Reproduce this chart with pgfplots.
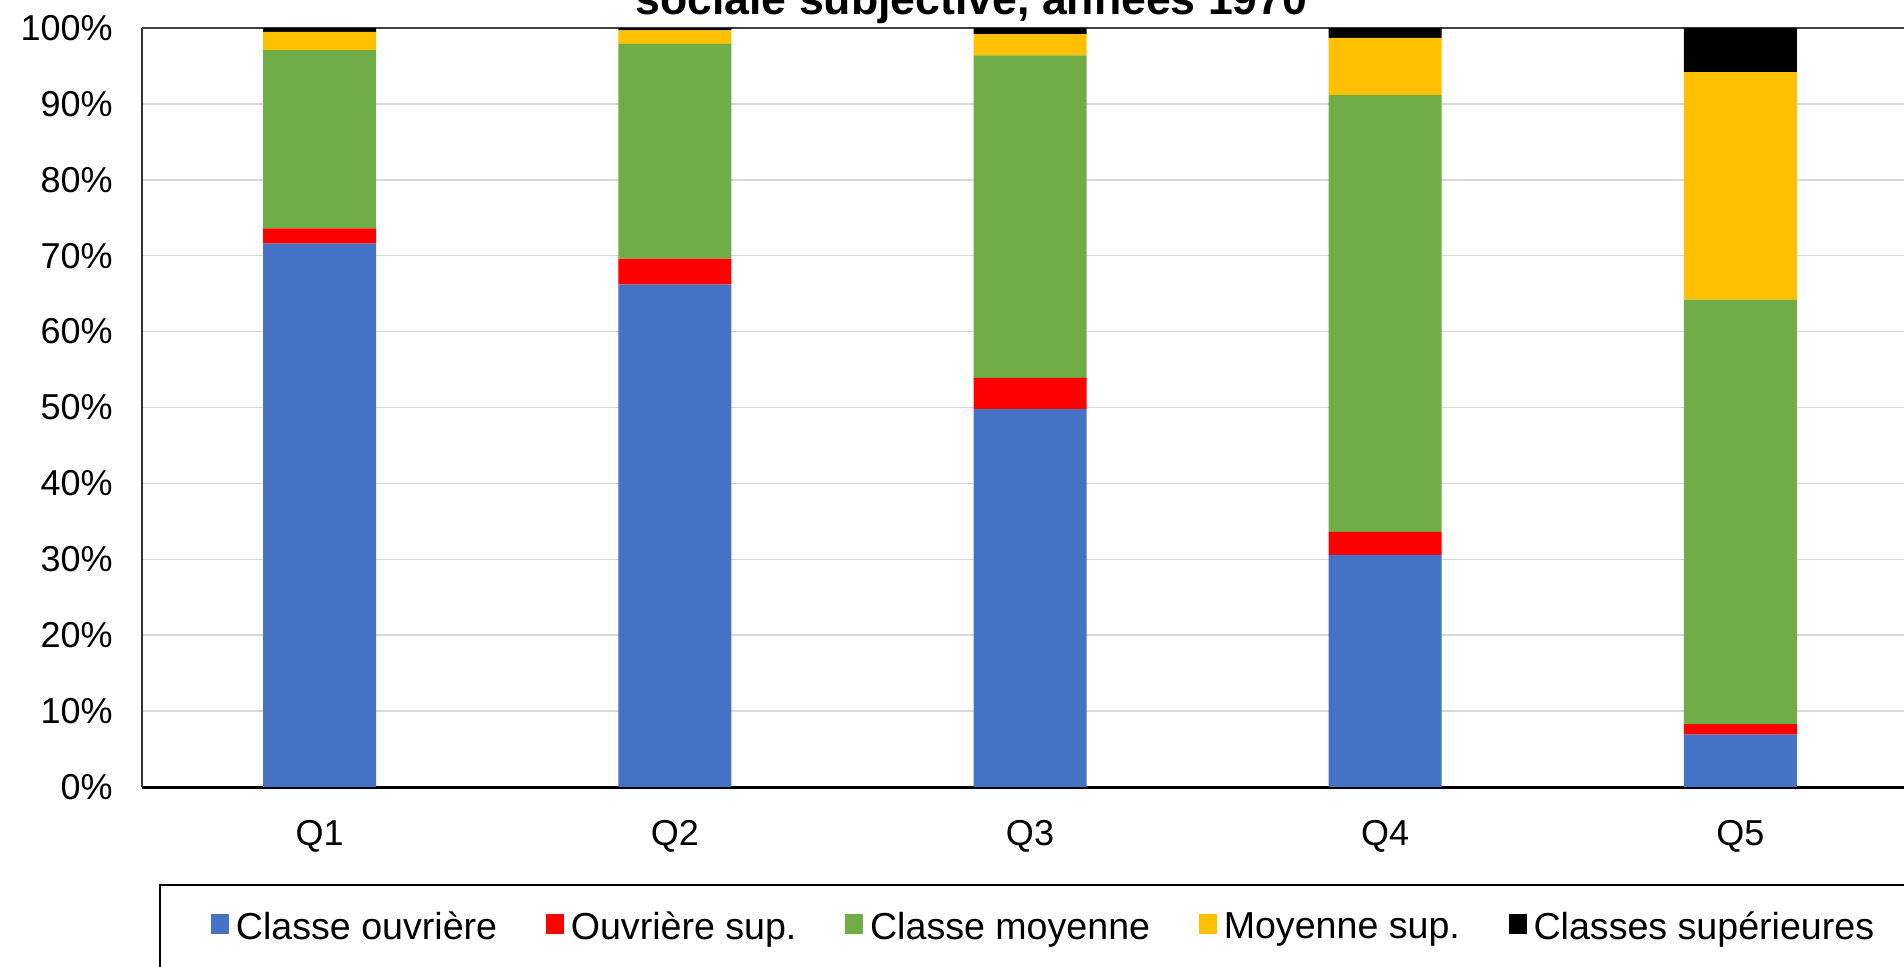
\documentclass[border=0pt]{standalone}
\usepackage{fontspec}
\setmainfont{Liberation Sans}
\usepackage{pgfplots}
\pgfplotsset{compat=1.18}
\definecolor{cBlue}{HTML}{4472C4}
\definecolor{cRed}{HTML}{FF0000}
\definecolor{cGreen}{HTML}{70AD47}
\definecolor{cYellow}{HTML}{FFC000}
\definecolor{cBlack}{HTML}{000000}
\definecolor{cGrid}{HTML}{D9D9D9}
\begin{document}
\begin{tikzpicture}
\useasboundingbox (0,0) rectangle (952pt,483pt);
\clip (0,0) rectangle (952pt,483pt);
\node[anchor=base, inner sep=0pt, font=\fontsize{22.3}{26}\selectfont\bfseries] at (485.7pt,475.5pt) {sociale subjective, années 1970};
\begin{axis}[
  at={(71pt,89.5pt)}, anchor=south west,
  scale only axis, width=888pt, height=379.5pt,
  ybar stacked, bar width=56.5pt,
  every axis plot post/.append style={legend image code/.code={\fill[##1, draw=none] (0pt,-3.2pt) rectangle (9pt,6.8pt);}},
  xmin=-0.5, xmax=4.5, ymin=0, ymax=100,
  xtick={0,1,2,3,4}, xticklabels={Q1,Q2,Q3,Q4,Q5},
  ytick={0,10,20,30,40,50,60,70,80,90},
  yticklabels={0\%,10\%,20\%,30\%,40\%,50\%,60\%,70\%,80\%,90\%},
  extra y ticks={100}, extra y tick labels={100\%},
  extra y tick style={grid style={draw=black!75, line width=1pt}},
  ymajorgrids, grid style={draw=cGrid, line width=0.75pt},
  axis x line*=bottom, axis y line*=left,
  x axis line style={-, draw=black, line width=1.5pt},
  y axis line style={-, draw=black!80, line width=0.8pt},
  tick style={draw=none},
  tick label style={font=\fontsize{18}{21}\selectfont},
  yticklabel style={anchor=east, inner sep=0pt, xshift=-14.5pt},
  xticklabel style={anchor=base, inner sep=0pt, yshift=-29.4pt},
  legend columns=5,
  legend style={at={(0.00957,-0.1278)}, anchor=north west,
    draw=black, line width=1pt, inner xsep=25.5pt, inner ysep=13.5pt,
    font=\fontsize{18.8}{22}\selectfont,
    nodes={inner sep=0pt},
    /tikz/every odd column/.append style={column sep=3.5pt},
    /tikz/every even column/.append style={column sep=24.3pt}},
]
\addplot+[fill=cBlue, draw=none] coordinates {(0,71.6) (1,66.2) (2,49.8) (3,30.6) (4,6.9)};
\addlegendentry{Classe ouvrière}
\addplot+[fill=cRed, draw=none] coordinates {(0,2.0) (1,3.4) (2,4.1) (3,3.0) (4,1.4)};
\addlegendentry{Ouvrière sup.}
\addplot+[fill=cGreen, draw=none] coordinates {(0,23.5) (1,28.3) (2,42.5) (3,57.6) (4,55.9)};
\addlegendentry{Classe moyenne}
\addplot+[fill=cYellow, draw=none] coordinates {(0,2.4) (1,1.8) (2,2.8) (3,7.5) (4,30.0)};
\addlegendentry{Moyenne sup.}
\addplot+[fill=cBlack, draw=none] coordinates {(0,0.5) (1,0.3) (2,0.8) (3,1.3) (4,5.8)};
\addlegendentry{Classes supérieures}
\end{axis}
\end{tikzpicture}
\end{document}
